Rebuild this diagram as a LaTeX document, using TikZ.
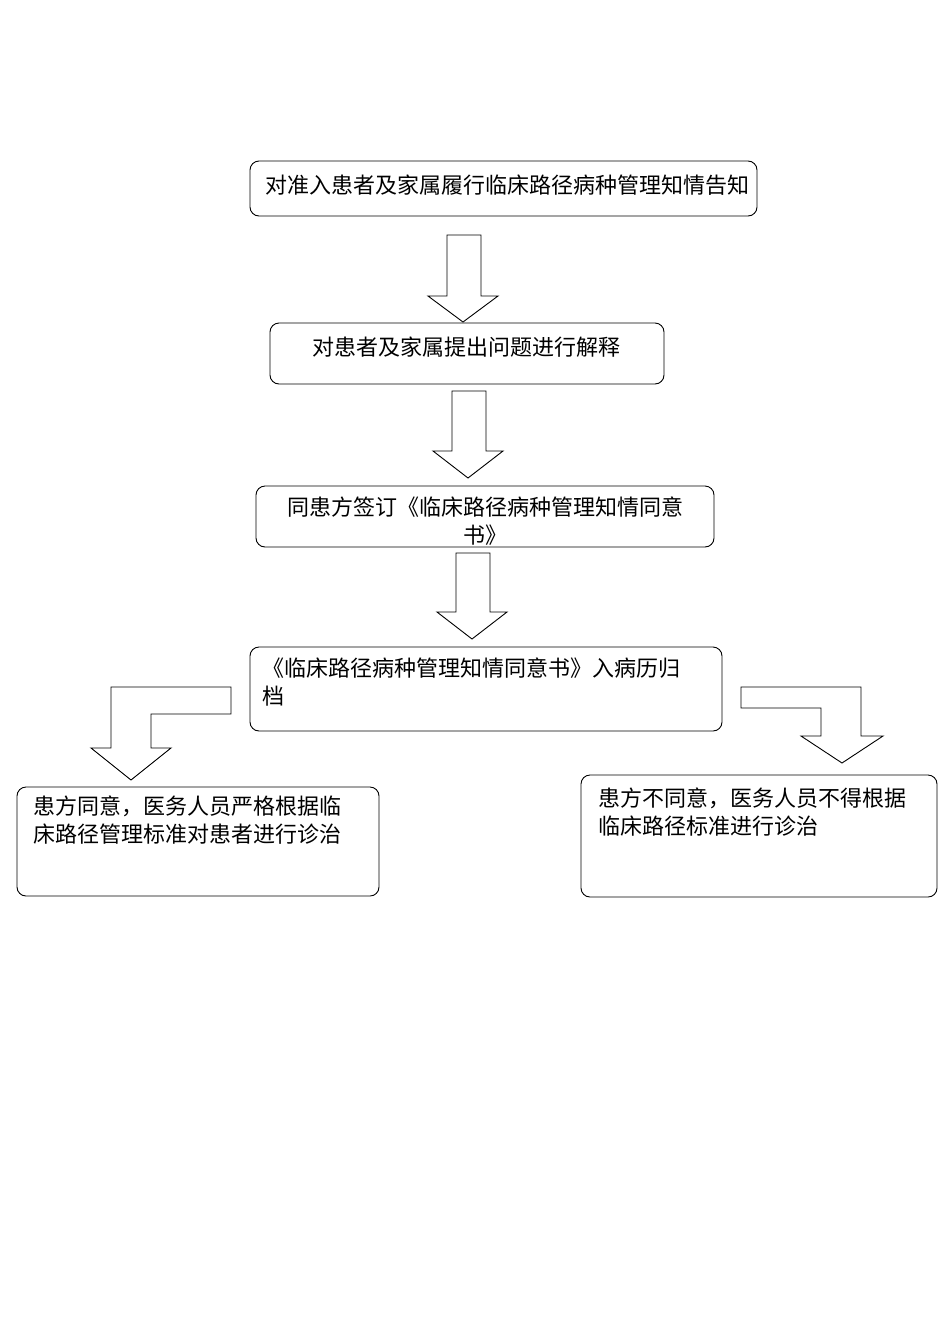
\documentclass[tikz,border=0pt]{standalone}
\usepackage{fontspec}
\setmainfont{Noto Sans CJK SC}
\begin{document}
\begin{tikzpicture}[x=1pt,y=-1pt,
  box/.style={draw,line width=0.9pt,rounded corners=9pt},
  txt/.style={font=\fontsize{22}{28}\selectfont,anchor=west,align=left,inner sep=0pt},
  arr/.style={draw,line width=0.9pt,fill=white}]
\useasboundingbox (0,0) rectangle (950,1344);
\draw[box] (250,161) rectangle (757,216);
\node[txt] (t1) at (265,185) {对准入患者及家属履行临床路径病种管理知情告知};
\draw[box] (270,323) rectangle (664,384);
\node[txt] (t2) at (312,347) {对患者及家属提出问题进行解释};
\draw[box] (256,486) rectangle (714,547);
\node[txt,align=center,anchor=center] (t3) at (485,521) {同患方签订《临床路径病种管理知情同意\\书》};
\draw[box] (250,647) rectangle (722,731);
\node[txt,anchor=north west] (t4) at (262,658) {《临床路径病种管理知情同意书》入病历归\\档};
\draw[box] (17,787) rectangle (379,896);
\node[txt,anchor=north west] (t5) at (33,796) {患方同意，医务人员严格根据临\\床路径管理标准对患者进行诊治};
\draw[box] (581,775) rectangle (937,897);
\node[txt,anchor=north west] (t6) at (598,788) {患方不同意，医务人员不得根据\\临床路径标准进行诊治};
\draw[arr] (447,235)--(481,235)--(481,296)--(498,296)--(463,322)--(428,296)--(447,296)--cycle;
\draw[arr] (452,391)--(486,391)--(486,451)--(503,451)--(468,478)--(433,451)--(452,451)--cycle;
\draw[arr] (456,553)--(490,553)--(490,612)--(507,612)--(472,639)--(437,612)--(456,612)--cycle;
\draw[arr] (111,687)--(231,687)--(231,714)--(151,714)--(151,748)--(171,748)--(131,780)--(91,748)--(111,748)--cycle;
\draw[arr] (741,687)--(861,687)--(861,736)--(883,736)--(842,763)--(801,736)--(821,736)--(821,708)--(741,708)--cycle;
\end{tikzpicture}
\end{document}
